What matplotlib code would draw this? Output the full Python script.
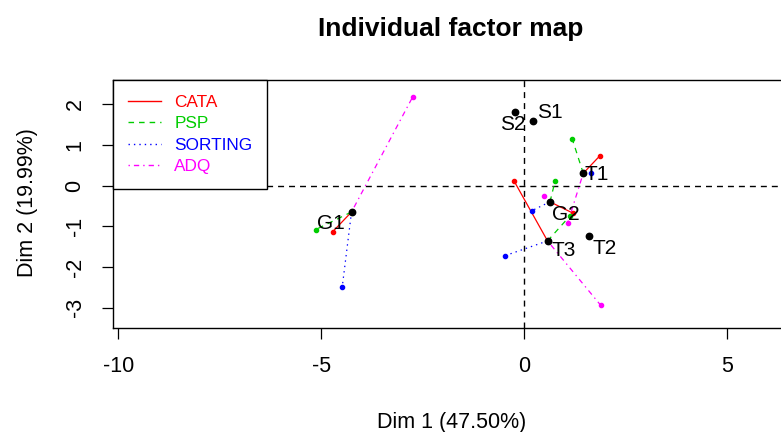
import matplotlib
matplotlib.use("Agg")
import matplotlib.pyplot as plt
from matplotlib.lines import Line2D

plt.rcParams['font.family'] = ['Liberation Sans', 'DejaVu Sans']
plt.rcParams['lines.scale_dashes'] = False

# ---------------- data ----------------
individuals = ["S1", "S2", "T1", "T2", "T3", "G1", "G2"]
mean_x = [0.21, -0.23, 1.46, 1.61, 0.58, -4.25, 0.64]
mean_y = [1.58, 1.80, 0.30, -1.25, -1.36, -0.65, -0.40]

partial_individuals = ["T1", "T3", "G1", "G2"]
groups = ["CATA", "PSP", "SORTING", "ADQ"]
cata_x = [1.87, -0.25, -4.71, 1.21]
cata_y = [0.73, 0.12, -1.13, -0.68]
psp_x = [1.19, 1.13, -5.13, 0.77]
psp_y = [1.14, -0.75, -1.08, 0.12]
sorting_x = [1.65, -0.46, -4.48, 0.19]
sorting_y = [0.30, -1.72, -2.50, -0.62]
adq_x = [1.08, 1.89, -2.74, 0.49]
adq_y = [-0.91, -2.94, 2.18, -0.26]

x_ticks = [-10, -5, 0, 5]
y_ticks = [-3, -2, -1, 0, 1, 2]
title = "Individual factor map"
xlabel = "Dim 1 (47.50%)"
ylabel = "Dim 2 (19.99%)"

# ---------------- style ----------------
group_x = [cata_x, psp_x, sorting_x, adq_x]
group_y = [cata_y, psp_y, sorting_y, adq_y]
colors = ["#FF0000", "#00CD00", "#0000FF", "#FF00FF"]
styles = ["-", (0, (4.0, 3.6)), (0, (1.0, 2.9)), (0, (1.0, 2.9, 3.8, 2.9))]
# label offsets in pixels (dx right, dy down)
label_offsets = {"S1": (17, -9), "S2": (-2, 12), "T1": (13, 1), "T2": (15, 12),
                 "T3": (16, 10), "G1": (-21, 12), "G2": (16, 13)}

W, H = 781, 432
fig = plt.figure(figsize=(W / 100, H / 100), dpi=100)
ax = fig.add_axes([113.3 / W, 1 - 328.3 / H, (789 - 113.3) / W, (328.3 - 80) / H])
ax.set_xlim(-10.12, 6.53)
ax.set_ylim(-3.505, 2.59)

ax.axhline(0, color="black", lw=1.0, ls=(0, (4.3, 3.6)), zorder=1)
ax.axvline(0, color="black", lw=1.0, ls=(0, (4.3, 3.6)), zorder=1)

mean_lookup = dict(zip(individuals, zip(mean_x, mean_y)))
for gx, gy, col, ls in zip(group_x, group_y, colors, styles):
    for ind, px, py in zip(partial_individuals, gx, gy):
        mx, my = mean_lookup[ind]
        ax.plot([mx, px], [my, py], color=col, lw=0.9, ls=ls, zorder=2)
    ax.plot(gx, gy, ls="none", marker="o", ms=3.0, color=col, mec=col, zorder=3)

ax.plot(mean_x, mean_y, ls="none", marker="o", ms=4.6, color="black", zorder=4)
for name, x, y in zip(individuals, mean_x, mean_y):
    dx, dy = label_offsets[name]
    ax.annotate(name, (x, y), xytext=(dx * 0.72, -dy * 0.72), textcoords="offset points",
                ha="center", va="center", fontsize=15, color="black", zorder=5)

handles = [Line2D([], [], color=c, lw=1.0, ls=s) for c, s in zip(colors, styles)]
leg = ax.legend(handles, groups, loc="upper left", bbox_to_anchor=(0, 1), borderaxespad=0,
                fancybox=False, edgecolor="black", framealpha=1, fontsize=12.4,
                handlelength=1.9, handletextpad=0.8, borderpad=0.85, labelspacing=0.38)
leg.get_frame().set_linewidth(1.0)
for t, c in zip(leg.get_texts(), colors):
    t.set_color(c)

ax.set_xticks(x_ticks)
ax.set_xticklabels([str(v) for v in x_ticks])
ax.set_yticks(y_ticks)
ax.set_yticklabels([str(v) for v in y_ticks], rotation=90, va="center")
ax.tick_params(axis="both", direction="out", length=8, width=0.9, labelsize=15.5, pad=12)
for s in ax.spines.values():
    s.set_linewidth(1.0)

def fx(p):
    return p / W

def fy(p):
    return 1 - p / H

fig.text(fx(451), fy(35.7), title, ha="center", va="baseline", fontsize=19, fontweight="bold")
fig.text(fx(452), fy(428), xlabel, ha="center", va="baseline", fontsize=15.5)
fig.text(fx(33.3), fy(203), ylabel, ha="center", va="baseline", rotation=90, fontsize=15.5,
         rotation_mode="anchor")

fig.savefig("out.png", dpi=100)
